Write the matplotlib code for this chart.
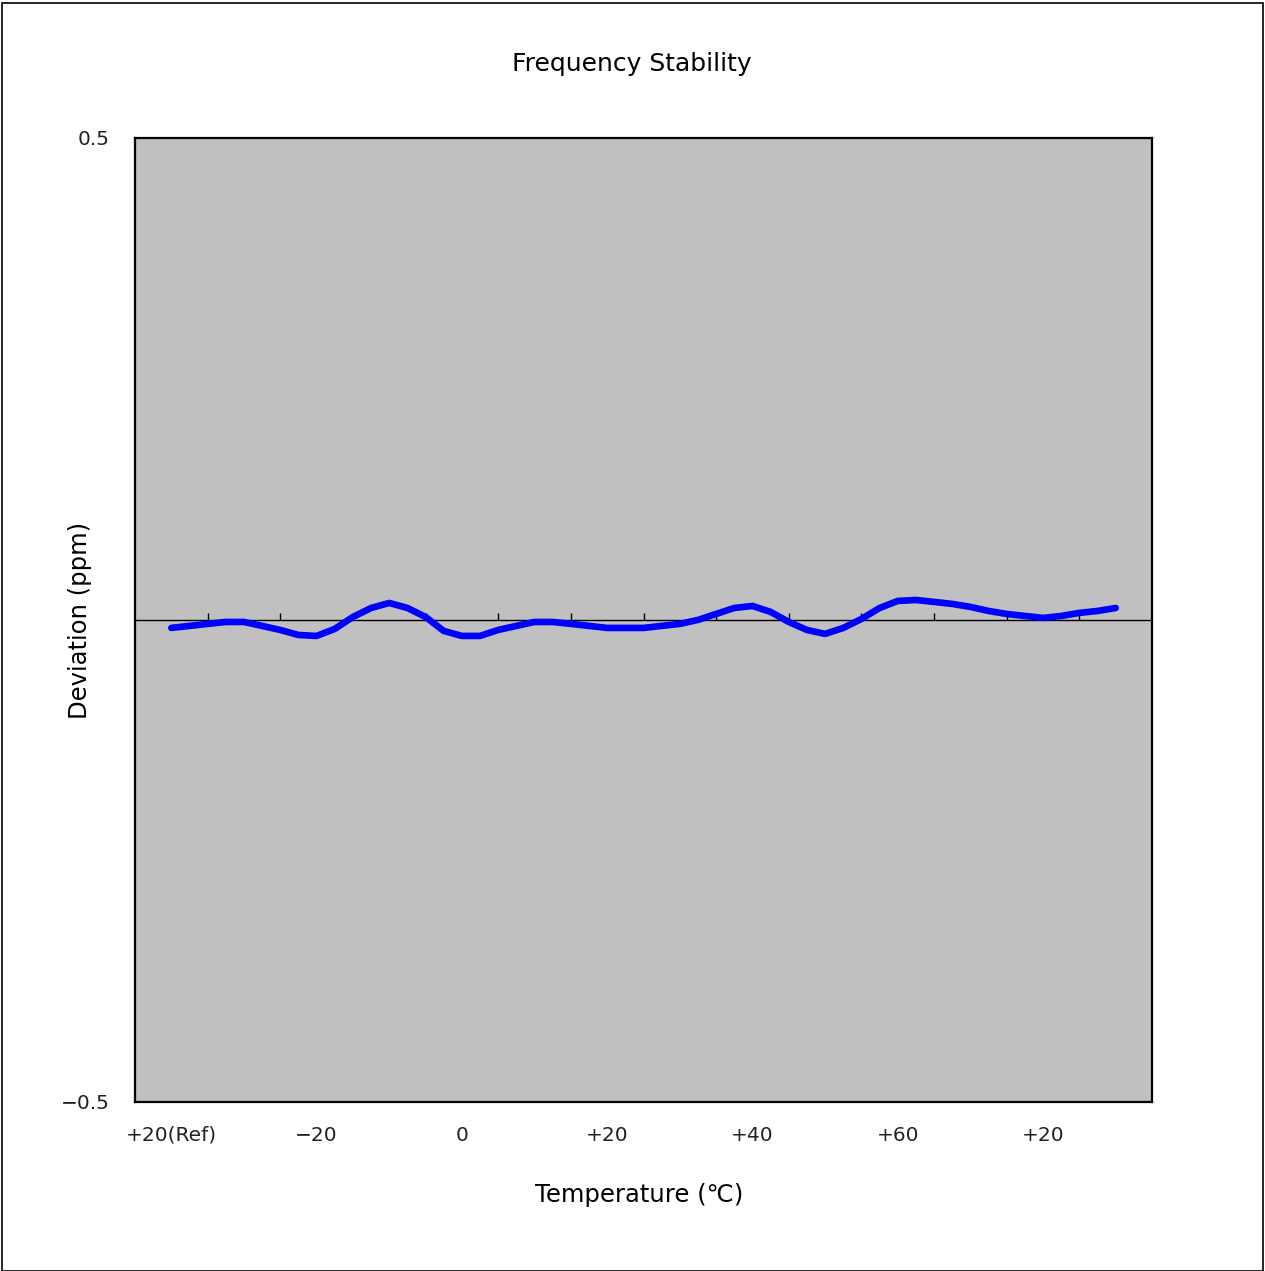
import numpy as np
import matplotlib
matplotlib.use("Agg")
import matplotlib.pyplot as plt
from matplotlib.patches import Rectangle

plt.rcParams['font.family'] = ['DejaVu Sans', 'Liberation Sans']

# categories on the x axis (only every other label is shown, like the source chart)
categories = ["+20(Ref)", "-30", "\u221220", "-10", "0", "+10", "+20", "+30",
              "+40", "+50", "+60", "+70", "+20", "+25"]
shown_labels = ["+20(Ref)", "", "\u221220", "", "0", "", "+20", "",
                "+40", "", "+60", "", "+20", ""]

# deviation (ppm), 4 readings per category step
deviation = [-0.0083, -0.0062, -0.0041, -0.0021, -0.0021, -0.0062, -0.0104,
             -0.0156, -0.0166, -0.0093, 0.0031, 0.0124, 0.0176, 0.0124,
             0.0031, -0.0114, -0.0166, -0.0166, -0.0104, -0.0062, -0.0021,
             -0.0021, -0.0041, -0.0062, -0.0083, -0.0083, -0.0083, -0.0062,
             -0.0041, 0.0000, 0.0062, 0.0124, 0.0145, 0.0083, -0.0021,
             -0.0104, -0.0145, -0.0083, 0.0010, 0.0124, 0.0197, 0.0207,
             0.0187, 0.0166, 0.0135, 0.0093, 0.0062, 0.0041, 0.0021,
             0.0041, 0.0073, 0.0093, 0.0124]
steps_per_cat = 4

fig = plt.figure(figsize=(12.65, 12.71), dpi=100)
ax = fig.add_axes([0.1067, 0.1330, 0.804, 0.7585])
ax.set_facecolor("#c0c0c0")

x = np.arange(len(deviation)) / steps_per_cat
ax.plot(x, deviation, color="#0000ff", lw=4.8, solid_joinstyle="round",
        solid_capstyle="round", zorder=3)

# horizontal axis line crossing at zero, with tick marks between categories
ax.axhline(0, color="black", lw=1.0, zorder=2)
bounds = np.arange(len(categories) - 1) + 0.5
ax.vlines(bounds, 0, 0.0075, color="black", lw=1.0, zorder=2)

ax.set_xlim(-0.5, len(categories) - 0.5)
ax.set_ylim(-0.5, 0.5)

ax.set_xticks(np.arange(len(categories)))
ax.set_xticklabels(shown_labels, fontsize=14.5, color="#222222")
ax.tick_params(axis="x", length=0, pad=17)
ax.set_yticks([-0.5, 0.5])
ax.set_yticklabels(["\u22120.5", "0.5"], fontsize=14.5, color="#222222")
ax.tick_params(axis="y", length=0, pad=18)

for s in ax.spines.values():
    s.set_linewidth(1.6)
    s.set_color("black")

fig.text(0.4995, 0.9495, "Frequency Stability", ha="center", va="center",
         fontsize=18)
fig.text(0.505, 0.0600, "Temperature (\u2103)", ha="center", va="center",
         fontsize=17.5)
fig.text(0.0635, 0.512, "Deviation (ppm)", ha="center", va="center",
         rotation=90, fontsize=17.5)

# outer chart border
fig.patches.append(Rectangle((0.0015, 0.0), 0.997, 0.998, transform=fig.transFigure,
                             fill=False, edgecolor="black", lw=1.2))

fig.savefig("out.png", dpi=100)
